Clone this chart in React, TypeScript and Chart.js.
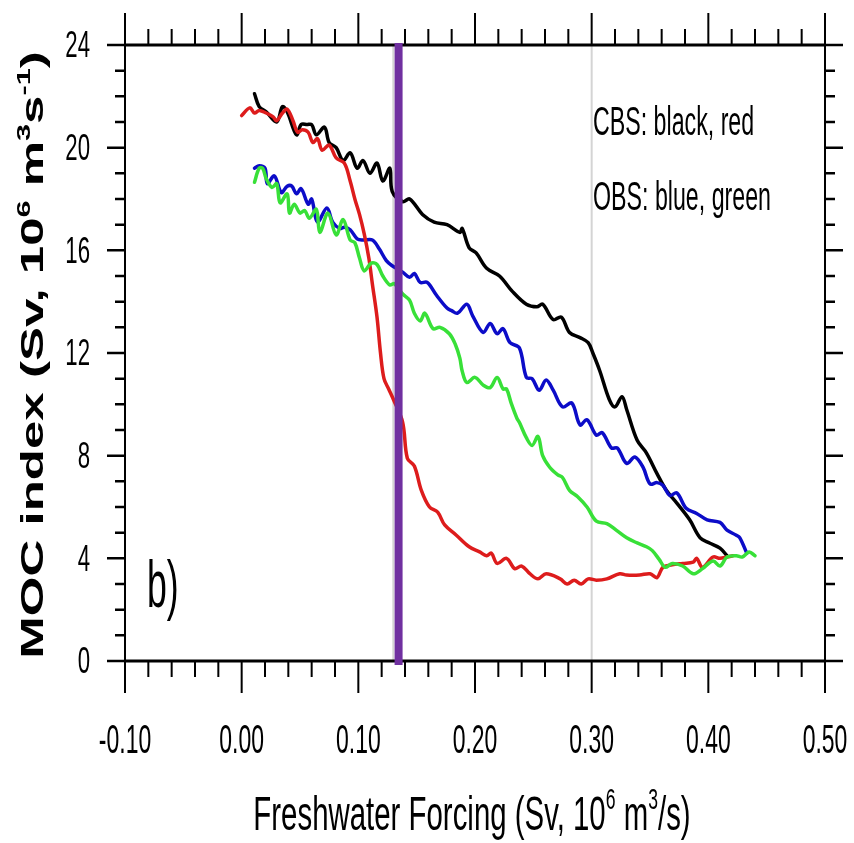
import React, { useEffect, useRef } from 'react';
import { Chart, registerables } from 'chart.js';

Chart.register(...registerables);

// ---- axis ticks ----
const xTickValues = [-0.1, 0.0, 0.1, 0.2, 0.3, 0.4, 0.5];
const xTickLabels = ['-0.10', '0.00', '0.10', '0.20', '0.30', '0.40', '0.50'];
const xMinorStep = 0.02;
const yTickValues = [0, 4, 8, 12, 16, 20, 24];
const yTickLabels = ['0', '4', '8', '12', '16', '20', '24'];
const yMinorStep = 1;
const refLinesX = [0.13, 0.3];
const markerX = 0.1345;

// ---- series: CBS black ----
const blackX = [0.011, 0.015, 0.021, 0.030, 0.035, 0.039, 0.047, 0.051, 0.056, 0.060, 0.064, 0.071, 0.075, 0.081, 0.087, 0.093, 0.099, 0.104, 0.110, 0.116, 0.121, 0.127, 0.129, 0.138, 0.144, 0.155, 0.165, 0.176, 0.187, 0.189, 0.195, 0.201, 0.210, 0.221, 0.232, 0.244, 0.253, 0.258, 0.267, 0.274, 0.281, 0.290, 0.297, 0.301, 0.307, 0.315, 0.320, 0.326, 0.330, 0.339, 0.347, 0.356, 0.364, 0.373, 0.384, 0.393, 0.401, 0.410, 0.416];
const blackY = [22.1, 21.6, 21.4, 21.0, 21.6, 21.4, 20.5, 20.9, 20.9, 20.9, 20.5, 20.8, 20.2, 20.0, 19.5, 19.8, 19.2, 19.5, 19.0, 19.4, 18.7, 19.2, 18.3, 17.9, 18.0, 17.4, 17.1, 17.0, 16.7, 16.85, 16.1, 15.9, 15.3, 15.0, 14.4, 13.9, 13.8, 13.9, 13.3, 13.4, 12.8, 12.6, 12.4, 12.0, 11.3, 10.2, 9.9, 10.3, 9.8, 8.6, 8.1, 7.3, 6.65, 6.15, 5.5, 4.8, 4.6, 4.4, 4.1];

// ---- series: CBS red ----
const redX = [0.000, 0.007, 0.011, 0.015, 0.021, 0.027, 0.030, 0.035, 0.039, 0.044, 0.048, 0.052, 0.057, 0.061, 0.065, 0.069, 0.075, 0.081, 0.088, 0.093, 0.097, 0.101, 0.105, 0.109, 0.112, 0.116, 0.119, 0.122, 0.126, 0.130, 0.138, 0.142, 0.148, 0.154, 0.161, 0.168, 0.174, 0.184, 0.195, 0.204, 0.210, 0.214, 0.219, 0.227, 0.234, 0.240, 0.247, 0.254, 0.261, 0.273, 0.279, 0.285, 0.291, 0.297, 0.304, 0.313, 0.324, 0.330, 0.341, 0.350, 0.356, 0.361, 0.369, 0.378, 0.387, 0.390, 0.395, 0.404, 0.410, 0.416, 0.421];
const redY = [21.25, 21.55, 21.35, 21.45, 21.35, 21.2, 21.05, 21.35, 21.5, 21.05, 20.6, 20.7, 20.6, 20.2, 20.35, 19.9, 20.1, 19.6, 19.4, 18.7, 18.0, 17.4, 16.65, 15.7, 14.7, 13.4, 12.0, 11.0, 10.6, 10.2, 9.3, 7.9, 7.6, 6.65, 6.0, 5.8, 5.3, 4.9, 4.45, 4.25, 4.1, 4.2, 3.8, 4.0, 3.6, 3.7, 3.4, 3.2, 3.4, 3.2, 3.0, 3.15, 3.0, 3.2, 3.15, 3.2, 3.4, 3.35, 3.35, 3.4, 3.25, 3.65, 3.75, 3.8, 3.85, 4.0, 3.65, 4.05, 4.0, 4.05, 4.1];

// ---- series: OBS blue ----
const blueX = [0.011, 0.015, 0.020, 0.022, 0.028, 0.034, 0.039, 0.043, 0.047, 0.051, 0.057, 0.060, 0.065, 0.073, 0.078, 0.084, 0.088, 0.093, 0.099, 0.104, 0.112, 0.118, 0.124, 0.129, 0.138, 0.144, 0.148, 0.153, 0.159, 0.167, 0.176, 0.180, 0.185, 0.193, 0.198, 0.207, 0.213, 0.219, 0.224, 0.230, 0.238, 0.244, 0.249, 0.255, 0.261, 0.267, 0.275, 0.283, 0.290, 0.296, 0.304, 0.309, 0.317, 0.322, 0.330, 0.337, 0.344, 0.350, 0.356, 0.361, 0.367, 0.373, 0.381, 0.390, 0.399, 0.410, 0.416, 0.424, 0.427, 0.433];
const blueY = [19.2, 19.3, 19.2, 18.6, 18.9, 18.25, 18.5, 18.5, 18.2, 18.4, 17.8, 18.0, 17.1, 17.65, 17.1, 16.85, 16.9, 16.8, 16.45, 16.4, 16.4, 16.05, 15.6, 15.4, 15.15, 14.95, 15.1, 14.75, 14.75, 14.25, 13.75, 13.65, 13.55, 13.9, 13.45, 12.8, 13.15, 12.75, 12.95, 12.4, 12.2, 11.05, 11.0, 10.55, 10.95, 10.55, 9.9, 10.05, 9.2, 9.4, 8.8, 8.9, 8.3, 8.3, 7.7, 7.95, 7.55, 6.9, 6.95, 6.85, 6.45, 6.55, 5.95, 5.75, 5.5, 5.4, 5.1, 4.9, 4.8, 4.2];

// ---- series: OBS green ----
const greenX = [0.011, 0.015, 0.018, 0.021, 0.026, 0.030, 0.033, 0.039, 0.041, 0.045, 0.050, 0.054, 0.058, 0.064, 0.067, 0.074, 0.081, 0.087, 0.093, 0.097, 0.101, 0.105, 0.111, 0.116, 0.121, 0.127, 0.131, 0.138, 0.144, 0.148, 0.153, 0.157, 0.164, 0.170, 0.178, 0.183, 0.187, 0.189, 0.193, 0.200, 0.207, 0.213, 0.219, 0.224, 0.227, 0.231, 0.236, 0.238, 0.244, 0.249, 0.254, 0.258, 0.264, 0.271, 0.275, 0.281, 0.288, 0.296, 0.304, 0.313, 0.321, 0.330, 0.339, 0.347, 0.352, 0.358, 0.363, 0.369, 0.378, 0.387, 0.395, 0.404, 0.410, 0.416, 0.424, 0.429, 0.435, 0.440];
const greenY = [18.65, 19.2, 19.2, 18.8, 18.45, 18.6, 17.85, 18.2, 17.45, 17.8, 17.45, 17.55, 17.25, 17.6, 16.7, 17.45, 16.6, 17.2, 16.4, 16.3, 15.7, 15.2, 15.5, 15.45, 15.0, 14.65, 14.7, 14.3, 14.05, 13.55, 13.25, 13.55, 12.95, 13.0, 12.75, 12.35, 11.8, 11.3, 10.85, 11.05, 10.75, 10.65, 11.05, 10.6, 10.6, 10.05, 9.45, 9.3, 8.7, 8.4, 8.75, 8.0, 7.55, 7.25, 7.15, 6.65, 6.4, 6.0, 5.45, 5.35, 5.1, 4.8, 4.6, 4.45, 4.3, 3.95, 3.65, 3.8, 3.7, 3.4, 3.6, 3.9, 3.7, 4.05, 4.1, 4.05, 4.25, 4.1];

const FONT = '"Liberation Sans", Arial, Helvetica, sans-serif';

type Seg = { t: string; sup?: boolean };
type TextOpts = {
  size: number;
  bold?: boolean;
  sx?: number;
  sy?: number;
  align?: 'left' | 'center' | 'right';
  rotate?: boolean;
  baseline?: CanvasTextBaseline;
};

function drawRich(ctx: CanvasRenderingContext2D, segs: Seg[], x: number, y: number, o: TextOpts) {
  const font = (s: number) => `${o.bold ? 'bold ' : ''}${s}px ${FONT}`;
  ctx.save();
  ctx.translate(x, y);
  if (o.rotate) ctx.rotate(-Math.PI / 2);
  ctx.scale(o.sx ?? 1, o.sy ?? 1);
  ctx.textBaseline = o.baseline ?? 'alphabetic';
  ctx.textAlign = 'left';
  ctx.fillStyle = '#000';
  let total = 0;
  const widths = segs.map((s) => {
    ctx.font = font(s.sup ? o.size * 0.6 : o.size);
    const w = ctx.measureText(s.t).width;
    total += w;
    return w;
  });
  let cx = o.align === 'center' ? -total / 2 : o.align === 'right' ? -total : 0;
  segs.forEach((s, i) => {
    ctx.font = font(s.sup ? o.size * 0.6 : o.size);
    ctx.fillText(s.t, cx, s.sup ? -o.size * 0.42 : 0);
    cx += widths[i];
  });
  ctx.restore();
}

const framePlugin = {
  id: 'ncarFrame',
  beforeDatasetsDraw(chart: any) {
    const { ctx, chartArea: a, scales } = chart;
    const xs = scales.x;
    ctx.save();
    ctx.strokeStyle = '#d4d4d4';
    ctx.lineWidth = 2;
    refLinesX.forEach((v) => {
      const px = xs.getPixelForValue(v);
      ctx.beginPath();
      ctx.moveTo(px, a.top);
      ctx.lineTo(px, a.bottom);
      ctx.stroke();
    });
    ctx.restore();
  },
  afterDraw(chart: any) {
    const { ctx, chartArea: a, scales } = chart;
    const xs = scales.x;
    const ys = scales.y;
    ctx.save();
    ctx.strokeStyle = '#000';
    ctx.lineCap = 'butt';

    // frame
    ctx.lineWidth = 3;
    ctx.beginPath();
    ctx.moveTo(a.left, a.top); ctx.lineTo(a.right, a.top);
    ctx.moveTo(a.left, a.bottom); ctx.lineTo(a.right, a.bottom);
    ctx.stroke();
    ctx.lineWidth = 2;
    ctx.beginPath();
    ctx.moveTo(a.left, a.top); ctx.lineTo(a.left, a.bottom);
    ctx.moveTo(a.right, a.top); ctx.lineTo(a.right, a.bottom);
    ctx.stroke();

    // x ticks (top & bottom, outward)
    const xMin = xs.min, xMax = xs.max;
    const nx = Math.round((xMax - xMin) / xMinorStep);
    ctx.lineWidth = 2;
    for (let i = 0; i <= nx; i++) {
      const v = xMin + i * xMinorStep;
      const major = i % 5 === 0;
      const px = xs.getPixelForValue(v);
      const len = major ? 32 : 16;
      ctx.beginPath();
      ctx.moveTo(px, a.bottom); ctx.lineTo(px, a.bottom + len);
      ctx.moveTo(px, a.top); ctx.lineTo(px, a.top - len);
      ctx.stroke();
    }
    // y ticks (left & right, outward)
    const ny = Math.round((ys.max - ys.min) / yMinorStep);
    ctx.lineWidth = 2.5;
    for (let i = 0; i <= ny; i++) {
      const v = ys.min + i * yMinorStep;
      const major = i % 4 === 0;
      const py = ys.getPixelForValue(v);
      const len = major ? 18 : 10;
      ctx.beginPath();
      ctx.moveTo(a.left, py); ctx.lineTo(a.left - len, py);
      ctx.moveTo(a.right, py); ctx.lineTo(a.right + len, py);
      ctx.stroke();
    }

    // tick labels
    xTickValues.forEach((v, i) => {
      drawRich(ctx, [{ t: xTickLabels[i] }], xs.getPixelForValue(v), a.bottom + 92, { size: 41, sx: 0.56, align: 'center' });
    });
    yTickValues.forEach((v, i) => {
      drawRich(ctx, [{ t: yTickLabels[i] }], 90, ys.getPixelForValue(v) + 2, { size: 37, sx: 0.6, align: 'right', baseline: 'middle' });
    });

    // purple marker line
    ctx.strokeStyle = '#7030a0';
    ctx.lineWidth = 8;
    const mx = xs.getPixelForValue(markerX);
    ctx.beginPath();
    ctx.moveTo(mx, a.top - 2);
    ctx.lineTo(mx, a.bottom + 4);
    ctx.stroke();

    // titles and annotations
    drawRich(ctx, [
      { t: 'Freshwater Forcing (Sv, 10' }, { t: '6', sup: true }, { t: ' m' }, { t: '3', sup: true }, { t: '/s)' },
    ], (a.left + a.right) / 2 - 3, 830, { size: 49, sx: 0.6, align: 'center' });

    drawRich(ctx, [
      { t: 'MOC index (Sv, 10' }, { t: '6', sup: true }, { t: ' m' }, { t: '3', sup: true }, { t: 's' }, { t: '-1', sup: true }, { t: ')' },
    ], 43, (a.top + a.bottom) / 2 + 2, { size: 51, bold: true, sx: 1, sy: 0.61, align: 'center', rotate: true });

    drawRich(ctx, [{ t: 'CBS: black, red' }], 593, 135, { size: 40, sx: 0.58 });
    drawRich(ctx, [{ t: 'OBS: blue, green' }], 593, 210, { size: 40, sx: 0.58 });
    drawRich(ctx, [{ t: 'b)' }], 147, 607, { size: 66, sx: 0.54 });

    ctx.restore();
  },
};

function zip(xs: number[], ys: number[]) {
  return xs.map((x, i) => ({ x, y: ys[i] }));
}

export default function App() {
  const ref = useRef<HTMLCanvasElement | null>(null);
  useEffect(() => {
    if (!ref.current) return;
    const common = { pointRadius: 0, borderWidth: 3.5, tension: 0.35, fill: false, borderJoinStyle: 'round' as const, borderCapStyle: 'round' as const };
    const chart = new Chart(ref.current, {
      type: 'line',
      data: {
        datasets: [
          { label: 'OBS green', data: zip(greenX, greenY), borderColor: '#38e038', ...common },
          { label: 'CBS red', data: zip(redX, redY), borderColor: '#dd1c1c', ...common },
          { label: 'OBS blue', data: zip(blueX, blueY), borderColor: '#0c0cc8', ...common },
          { label: 'CBS black', data: zip(blackX, blackY), borderColor: '#000000', ...common },
        ],
      },
      options: {
        animation: false,
        responsive: false,
        devicePixelRatio: 1,
        layout: { padding: { left: 125, right: 29, top: 45, bottom: 182 } },
        scales: {
          x: { type: 'linear', min: -0.1, max: 0.5, display: false },
          y: { type: 'linear', min: 0, max: 24, display: false },
        },
        plugins: { legend: { display: false }, tooltip: { enabled: false }, title: { display: false } },
      },
      plugins: [framePlugin],
    });
    return () => chart.destroy();
  }, []);
  return (
    <div style={{ position: 'absolute', left: 0, top: 0, width: 854, height: 843, background: '#fff' }}>
      <canvas ref={ref} width={854} height={843} style={{ display: 'block' }} />
    </div>
  );
}
